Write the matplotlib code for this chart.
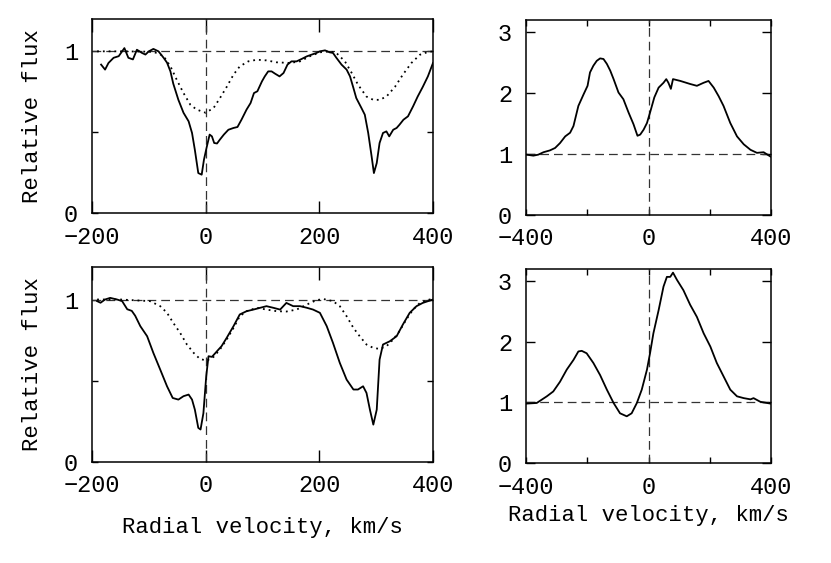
import numpy as np
import matplotlib
matplotlib.use('Agg')
import matplotlib.pyplot as plt

plt.rcParams['font.family'] = ['Liberation Mono', 'DejaVu Sans Mono']

# --- top-left: observed profile (solid) and model (dotted) ---
tl_v = [-184, -177, -171, -162, -153, -143, -136, -128, -121, -112, -106, -100, -92, -83,
        -74, -68, -62, -57, -48, -39, -30, -24, -19, -13, -7, -3, 2, 7, 11, 15, 20, 25,
        32, 40, 49, 56, 63, 72, 79, 85, 91, 99, 104, 110, 116, 122, 130, 137, 144, 151,
        160, 169, 178, 186, 195, 201, 210, 218, 224, 230, 239, 248, 254, 260, 265, 274,
        280, 286, 292, 296, 301, 306, 312, 318, 323, 330, 336, 341, 348, 356, 365, 373,
        382, 391, 400]
tl_f = [0.918, 0.887, 0.928, 0.96, 0.97, 1.02, 0.96, 0.95, 1.01, 0.99, 0.98, 1.0, 1.015, 1.0,
        0.96, 0.93, 0.876, 0.80, 0.70, 0.62, 0.567, 0.495, 0.39, 0.247, 0.237, 0.33, 0.41,
        0.485, 0.474, 0.433, 0.43, 0.454, 0.485, 0.515, 0.526, 0.532, 0.577, 0.64, 0.68,
        0.742, 0.753, 0.814, 0.845, 0.876, 0.876, 0.862, 0.845, 0.866, 0.918, 0.938, 0.938,
        0.953, 0.969, 0.979, 0.99, 1.0, 1.006, 0.994, 0.99, 0.96, 0.918, 0.887, 0.845,
        0.773, 0.711, 0.65, 0.608, 0.495, 0.35, 0.247, 0.309, 0.433, 0.495, 0.505, 0.474,
        0.515, 0.526, 0.546, 0.577, 0.598, 0.66, 0.72, 0.78, 0.845, 0.928]
tl_mv = [-191, -150, -100, -85, -74, -62, -51, -39, -27, -16, 0, 14, 25, 37, 49, 60, 75, 90,
         107, 125, 148, 166, 183, 201, 219, 230, 245, 257, 268, 283, 295, 306, 318, 333,
         347, 362, 377, 391, 400]
tl_mf = [1.0, 1.0, 0.998, 0.99, 0.97, 0.907, 0.825, 0.742, 0.67, 0.64, 0.62, 0.65, 0.71,
         0.78, 0.856, 0.907, 0.938, 0.948, 0.944, 0.932, 0.928, 0.938, 0.969, 0.994, 1.0,
         0.99, 0.938, 0.866, 0.794, 0.72, 0.70, 0.70, 0.72, 0.78, 0.856, 0.928, 0.979,
         0.996, 1.0]

# --- bottom-left ---
bl_v = [-191, -185, -177, -168, -156, -147, -138, -130, -124, -115, -103, -92, -80, -68,
        -58, -48, -39, -30, -24, -19, -13, -9, -4, 1, 5, 11, 20, 28, 37, 49, 60, 72, 84,
        96, 107, 119, 131, 142, 154, 166, 178, 189, 201, 213, 224, 236, 248, 260, 268, 277,
        283, 289, 295, 301, 306, 312, 324, 336, 347, 359, 371, 382, 400]
bl_f = [0.99, 0.98, 1.0, 1.01, 1.0, 0.99, 0.94, 0.93, 0.90, 0.836, 0.774, 0.671, 0.569,
        0.466, 0.394, 0.384, 0.405, 0.415, 0.384, 0.322, 0.21, 0.20, 0.30, 0.528, 0.651,
        0.647, 0.682, 0.713, 0.764, 0.836, 0.908, 0.928, 0.938, 0.949, 0.959, 0.949, 0.938,
        0.979, 0.959, 0.959, 0.949, 0.938, 0.918, 0.836, 0.733, 0.61, 0.507, 0.446, 0.446,
        0.466, 0.425, 0.322, 0.23, 0.322, 0.63, 0.723, 0.743, 0.774, 0.846, 0.918, 0.959,
        0.979, 1.0]
bl_mv = [-191, -150, -98, -80, -68, -57, -45, -33, -21, -10, 2, 14, 25, 37, 49, 60, 72, 90,
         107, 125, 142, 160, 178, 195, 207, 224, 236, 248, 260, 271, 283, 295, 306, 318,
         330, 341, 353, 365, 377, 394, 400]
bl_mf = [1.0, 1.0, 0.99, 0.959, 0.918, 0.856, 0.795, 0.723, 0.671, 0.634, 0.624, 0.647,
         0.692, 0.754, 0.825, 0.897, 0.928, 0.949, 0.938, 0.928, 0.926, 0.938, 0.969,
         0.996, 1.003, 0.99, 0.959, 0.897, 0.825, 0.774, 0.723, 0.702, 0.696, 0.712,
         0.754, 0.805, 0.877, 0.938, 0.979, 1.0, 1.0]

# --- top-right: emission profile ---
tr_v = [-398, -376, -360, -343, -322, -305, -289, -272, -256, -245, -229, -212, -199, -191,
        -180, -169, -158, -147, -136, -125, -114, -98, -82, -65, -49, -36, -27, -16, -5, 5,
        19, 33, 49, 58, 65, 73, 80, 104, 136, 158, 180, 196, 213, 229, 245, 267, 289, 311,
        333, 354, 376, 398]
tr_f = [0.99, 0.974, 0.99, 1.03, 1.06, 1.10, 1.18, 1.29, 1.35, 1.46, 1.79, 1.98, 2.12, 2.34,
        2.45, 2.53, 2.57, 2.56, 2.48, 2.37, 2.23, 2.01, 1.90, 1.68, 1.49, 1.30, 1.32, 1.40,
        1.51, 1.68, 1.93, 2.09, 2.17, 2.23, 2.17, 2.07, 2.23, 2.20, 2.15, 2.12, 2.17, 2.20,
        2.09, 1.95, 1.79, 1.51, 1.29, 1.16, 1.07, 1.02, 1.03, 0.96]

# --- bottom-right ---
br_v = [-398, -365, -332, -311, -289, -267, -245, -229, -218, -202, -180, -158, -136, -114,
        -93, -71, -55, -38, -22, -5, 5, 16, 33, 49, 60, 71, 80, 93, 114, 136, 158, 180, 202,
        223, 245, 267, 289, 311, 333, 343, 365, 398]
br_f = [0.98, 0.99, 1.10, 1.18, 1.34, 1.54, 1.70, 1.84, 1.85, 1.81, 1.65, 1.45, 1.21, 0.99,
        0.82, 0.77, 0.82, 0.99, 1.21, 1.54, 1.81, 2.14, 2.52, 2.91, 3.07, 3.07, 3.14, 3.02,
        2.85, 2.61, 2.41, 2.14, 1.92, 1.65, 1.43, 1.21, 1.10, 1.07, 1.05, 1.07, 1.01, 0.98]

W, H = 831, 563
fig = plt.figure(figsize=(W / 100, H / 100), dpi=100)


def box(l, r, t, b):
    return [l / W, 1 - b / H, (r - l) / W, (b - t) / H]


def style(ax, xlen, ylen):
    ax.tick_params(direction='in', top=True, right=True, labelsize=17, width=1,
                   colors='black')
    ax.tick_params(axis='x', length=xlen, pad=9)
    ax.tick_params(axis='y', length=ylen, pad=10)
    for s in ax.spines.values():
        s.set_linewidth(1.1)


def guides(ax, y0):
    ax.axhline(y0, color='#333333', lw=0.9, ls=(0, (7, 4)))
    ax.axvline(0, color='#333333', lw=0.9, ls=(0, (7, 4)))


left_axes = [fig.add_axes(box(92, 433, 19, 213)), fig.add_axes(box(92, 433, 267, 462))]
right_axes = [fig.add_axes(box(526, 771, 20, 215)), fig.add_axes(box(526, 771, 269, 463))]

for ax, v, f, mv, mf in [(left_axes[0], tl_v, tl_f, tl_mv, tl_mf),
                         (left_axes[1], bl_v, bl_f, bl_mv, bl_mf)]:
    guides(ax, 1.0)
    ax.plot(mv, mf, color='black', lw=1.3, ls=(0, (1, 2.2)))
    ax.plot(v, f, color='black', lw=1.3)
    ax.set_xlim(-200, 400)
    ax.set_ylim(0, 1.2)
    ax.set_xticks([-200, 0, 200, 400])
    ax.set_xticklabels(['\u2212200', '0', '200', '400'])
    ax.set_yticks([0, 0.5, 1])
    ax.set_yticklabels(['0', '', '1'])
    style(ax, 9, 4.5)

for ax, v, f in [(right_axes[0], tr_v, tr_f), (right_axes[1], br_v, br_f)]:
    guides(ax, 1.0)
    ax.plot(v, f, color='black', lw=1.3)
    ax.set_xlim(-400, 400)
    ax.set_ylim(0, 3.2)
    ax.set_xticks([-400, -200, 0, 200, 400])
    ax.set_xticklabels(['\u2212400', '', '0', '', '400'])
    ax.set_yticks([0, 1, 2, 3])
    style(ax, 4, 6.5)

fig.text(33 / W, 1 - 116 / H, 'Relative flux', rotation=90, ha='center', va='center', fontsize=16)
fig.text(33 / W, 1 - 364 / H, 'Relative flux', rotation=90, ha='center', va='center', fontsize=16)
fig.text(262 / W, 1 - 527 / H, 'Radial velocity, km/s', ha='center', va='center', fontsize=16)
fig.text(648 / W, 1 - 515 / H, 'Radial velocity, km/s', ha='center', va='center', fontsize=16)

fig.savefig('out.png', dpi=100)
